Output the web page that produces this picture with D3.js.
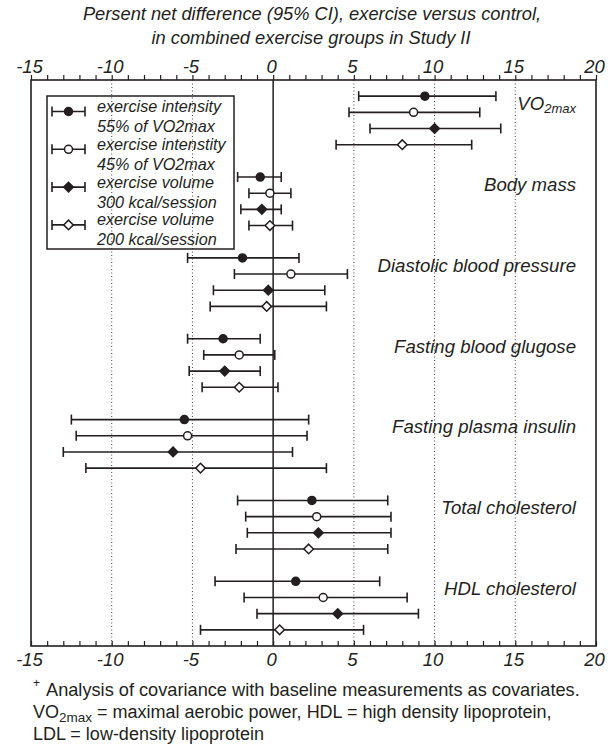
<!DOCTYPE html>
<html>
<head>
<meta charset="utf-8">
<script src="https://cdn.jsdelivr.net/npm/d3@7"></script>
<style>
body { margin: 0; background: #fff; }
text { font-family: Arial, "Liberation Sans", Helvetica, sans-serif; fill: #231f20; }
</style>
</head>
<body>
<svg id="chart" width="612" height="746"></svg>
<script>
// measures, top to bottom
const measures = ["VO2max", "Body mass", "Diastolic blood pressure", "Fasting blood glugose",
    "Fasting plasma insulin", "Total cholesterol", "HDL cholesterol"];
const seriesLabels = [
    ["exercise intensity", "55% of VO2max"],
    ["exercise intenstity", "45% of VO2max"],
    ["exercise volume", "300 kcal/session"],
    ["exercise volume", "200 kcal/session"]
];
// [lower CI, estimate, upper CI] for each measure
const intensity55 = [[5.3, 9.4, 13.8], [-2.2, -0.8, 0.5], [-5.3, -1.9, 1.6], [-5.3, -3.1, -0.8],
    [-12.5, -5.5, 2.2], [-2.2, 2.4, 7.1], [-3.6, 1.4, 6.6]];
const intensity45 = [[4.7, 8.7, 12.8], [-1.5, -0.2, 1.1], [-2.4, 1.1, 4.6], [-4.3, -2.1, 0.1],
    [-12.2, -5.3, 2.1], [-1.7, 2.7, 7.3], [-1.8, 3.1, 8.3]];
const volume300 = [[6.0, 10.0, 14.1], [-2.0, -0.7, 0.5], [-3.7, -0.3, 3.2], [-5.2, -3.0, -0.8],
    [-13.0, -6.2, 1.2], [-1.6, 2.8, 7.3], [-1.0, 4.0, 9.0]];
const volume200 = [[3.9, 8.0, 12.3], [-1.5, -0.2, 1.2], [-3.9, -0.4, 3.3], [-4.4, -2.1, 0.3],
    [-11.6, -4.5, 3.3], [-2.3, 2.2, 7.1], [-4.5, 0.4, 5.6]];
const xTickLabels = [-15, -10, -5, 0, 5, 10, 15, 20];
const gridValues = [-10, -5, 5, 10, 15];

const allSeries = [intensity55, intensity45, volume300, volume200];
const shapes = ["circle", "circle", "diamond", "diamond"];
const fills = ["#231f20", "#fff", "#231f20", "#fff"];

const svg = d3.select("#chart");
const ink = "#231f20";

const x = d3.scaleLinear().domain([-15, 20]).range([31, 596]);
// one row per series, a blank row between measures
const y = d3.scaleLinear().domain([-1, 34]).range([80, 646]);

// title
svg.append("text").attr("x", 312).attr("y", 20).attr("text-anchor", "middle")
    .style("font-size", "18.3px").style("font-style", "italic")
    .text("Persent net difference (95% CI), exercise versus control,");
svg.append("text").attr("x", 311).attr("y", 44).attr("text-anchor", "middle")
    .style("font-size", "18.3px").style("font-style", "italic")
    .text("in combined exercise groups in Study II");

// dotted grid and zero line
svg.selectAll(".grid").data(gridValues).enter().append("line")
    .attr("x1", d => x(d)).attr("x2", d => x(d))
    .attr("y1", y(-1)).attr("y2", y(34))
    .attr("stroke", "#444").attr("stroke-width", 1).attr("stroke-dasharray", "1,2.5");
svg.append("line")
    .attr("x1", x(0)).attr("x2", x(0)).attr("y1", y(-1)).attr("y2", y(34))
    .attr("stroke", ink).attr("stroke-width", 1.5);

// axes
const minor = d3.range(-15, 21);
const fmt = d => xTickLabels.includes(d) ? d : "";
const axisTopG = svg.append("g").attr("transform", "translate(0," + y(-1) + ")")
    .call(d3.axisTop(x).tickValues(minor).tickSize(5).tickPadding(2.5).tickFormat(fmt));
const axisBottomG = svg.append("g").attr("transform", "translate(0," + y(34) + ")")
    .call(d3.axisBottom(x).tickValues(minor).tickSizeInner(-5).tickSizeOuter(0).tickPadding(6.5).tickFormat(fmt));
[axisTopG, axisBottomG].forEach(function(g){
    g.select(".domain").remove();
    g.selectAll("line").attr("stroke", ink).attr("stroke-width", 1.2);
    g.selectAll("text").style("font-size", "18.5px").style("font-style", "italic")
        .attr("fill", ink).attr("dx", -2);
});

// frame
svg.append("rect")
    .attr("x", x(-15)).attr("y", y(-1))
    .attr("width", x(20) - x(-15)).attr("height", y(34) - y(-1))
    .attr("fill", "none").attr("stroke", ink).attr("stroke-width", 1.6);

function marker(g, shape, fill, cx, cy){
    if(shape === "circle"){
        g.append("circle").attr("cx", cx).attr("cy", cy).attr("r", 4)
            .attr("fill", fill).attr("stroke", ink).attr("stroke-width", 1.5);
    } else {
        let r = 4.8;
        g.append("path")
            .attr("d", "M" + cx + "," + (cy - r) + "L" + (cx + r) + "," + cy + "L" + cx + "," + (cy + r) + "L" + (cx - r) + "," + cy + "Z")
            .attr("fill", fill).attr("stroke", ink).attr("stroke-width", 1.5);
    }
}

function errorBar(g, x1, x2, cy){
    g.append("line").attr("x1", x1).attr("x2", x2).attr("y1", cy).attr("y2", cy)
        .attr("stroke", ink).attr("stroke-width", 1.6);
    [x1, x2].forEach(function(cx){
        g.append("line").attr("x1", cx).attr("x2", cx).attr("y1", cy - 5).attr("y2", cy + 5)
            .attr("stroke", ink).attr("stroke-width", 1.6);
    });
}

// bars
const marks = svg.append("g");
allSeries.forEach(function(series, s){
    series.forEach(function(d, m){
        let cy = y(m * 5 + s);
        errorBar(marks, x(d[0]), x(d[2]), cy);
        marker(marks, shapes[s], fills[s], x(d[1]), cy);
    });
});

// measure labels
measures.forEach(function(name, m){
    let t = svg.append("text").attr("x", 576).attr("y", y(m * 5 + 0.45)).attr("dy", "0.35em")
        .attr("text-anchor", "end").style("font-size", "18.6px").style("font-style", "italic");
    if(name === "VO2max"){
        t.append("tspan").text("VO");
        t.append("tspan").attr("dy", 3).style("font-size", "13px").text("2max");
    } else {
        t.text(name);
    }
});

// legend
svg.append("rect").attr("x", 47).attr("y", 96).attr("width", 187).attr("height", 153)
    .attr("fill", "none").attr("stroke", ink).attr("stroke-width", 1.5);
seriesLabels.forEach(function(lines, s){
    let cy = 111.5 + s * 37.8;
    errorBar(svg, 52, 85, cy);
    marker(svg, shapes[s], fills[s], 68.5, cy);
    lines.forEach(function(line, i){
        svg.append("text").attr("x", 97).attr("y", cy + 0.5 + i * 20)
            .style("font-size", "16.2px").style("font-style", "italic").text(line);
    });
});

// footnote
svg.append("text").attr("x", 33).attr("y", 687).style("font-size", "12px").text("+");
svg.append("text").attr("x", 46).attr("y", 696).style("font-size", "18.2px")
    .text("Analysis of covariance with baseline measurements as covariates.");
let f2 = svg.append("text").attr("x", 33).attr("y", 718).style("font-size", "18px");
f2.append("tspan").text("VO");
f2.append("tspan").attr("dy", 4).style("font-size", "13.5px").text("2max");
f2.append("tspan").attr("dy", -4).text(" = maximal aerobic power, HDL = high density lipoprotein,");
svg.append("text").attr("x", 33).attr("y", 740).style("font-size", "18px")
    .text("LDL = low-density lipoprotein");
</script>
</body>
</html>
